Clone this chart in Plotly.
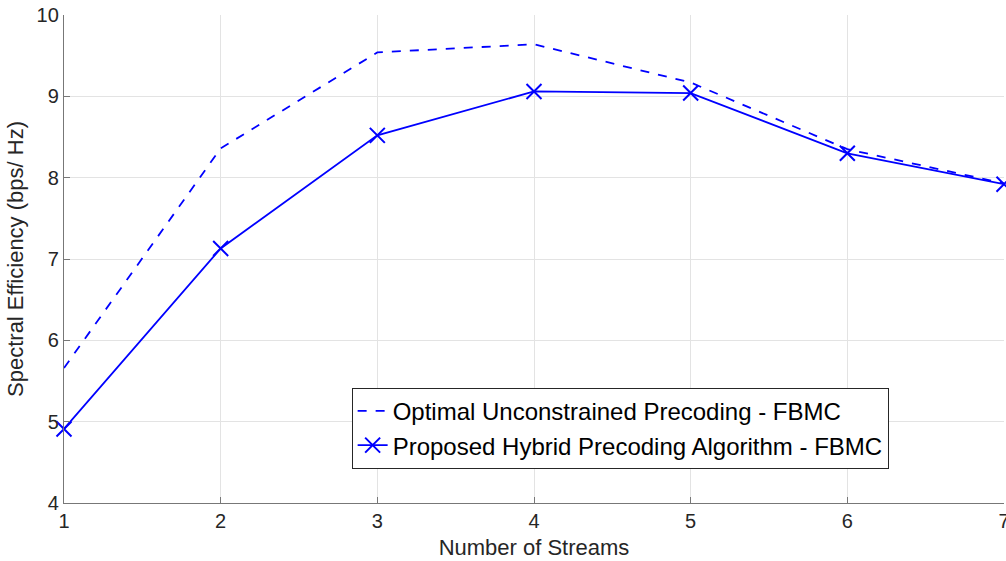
import plotly.graph_objects as go

streams = [1, 2, 3, 4, 5, 6, 7]
optimal = [5.66, 8.36, 9.54, 9.64, 9.17, 8.35, 7.93]
proposed = [4.91, 7.13, 8.52, 9.06, 9.04, 8.30, 7.92]

blue = "#0000FF"
FONT = "Liberation Sans, Arial, Helvetica"
fig = go.Figure()
fig.add_trace(go.Scatter(
    x=streams, y=optimal, mode="lines",
    name="Optimal Unconstrained Precoding - FBMC",
    line=dict(color=blue, width=1.8, dash="dash"),
    cliponaxis=False,
))
fig.add_trace(go.Scatter(
    x=streams, y=proposed, mode="lines+markers",
    name="Proposed Hybrid Precoding Algorithm - FBMC",
    line=dict(color=blue, width=1.8),
    marker=dict(symbol="x-thin-open", size=15, line=dict(color=blue, width=2)),
    cliponaxis=False,
))

axis_common = dict(
    showgrid=True, gridcolor="#e3e3e3", gridwidth=1,
    showline=True, linecolor="#777777", linewidth=1.3,
    ticks="inside", ticklen=6, tickcolor="#777777",
    tickfont=dict(family=FONT, size=20, color="#262626"),
    zeroline=False, automargin=False, ticklabeloverflow="allow",
)
fig.update_xaxes(
    range=[1, 7], tickvals=streams, **axis_common,
    title=dict(text="Number of Streams", font=dict(family=FONT, size=22, color="#262626"), standoff=8),
)
fig.update_yaxes(
    range=[4, 10], tickvals=[4, 5, 6, 7, 8, 9, 10], **axis_common,
    title=dict(text="Spectral Efficiency (bps/ Hz)", font=dict(family=FONT, size=22, color="#262626"), standoff=6),
)
fig.update_layout(
    width=1006, height=561,
    margin=dict(l=64, r=2, t=15, b=58),
    paper_bgcolor="white", plot_bgcolor="white",
    showlegend=True,
    legend=dict(
        x=0.306, y=0.236, xanchor="left", yanchor="top",
        bgcolor="white", bordercolor="#262626", borderwidth=1,
        font=dict(family=FONT, size=24, color="black"),
        tracegroupgap=0, itemwidth=30,
    ),
)
fig.write_html("out.html")
